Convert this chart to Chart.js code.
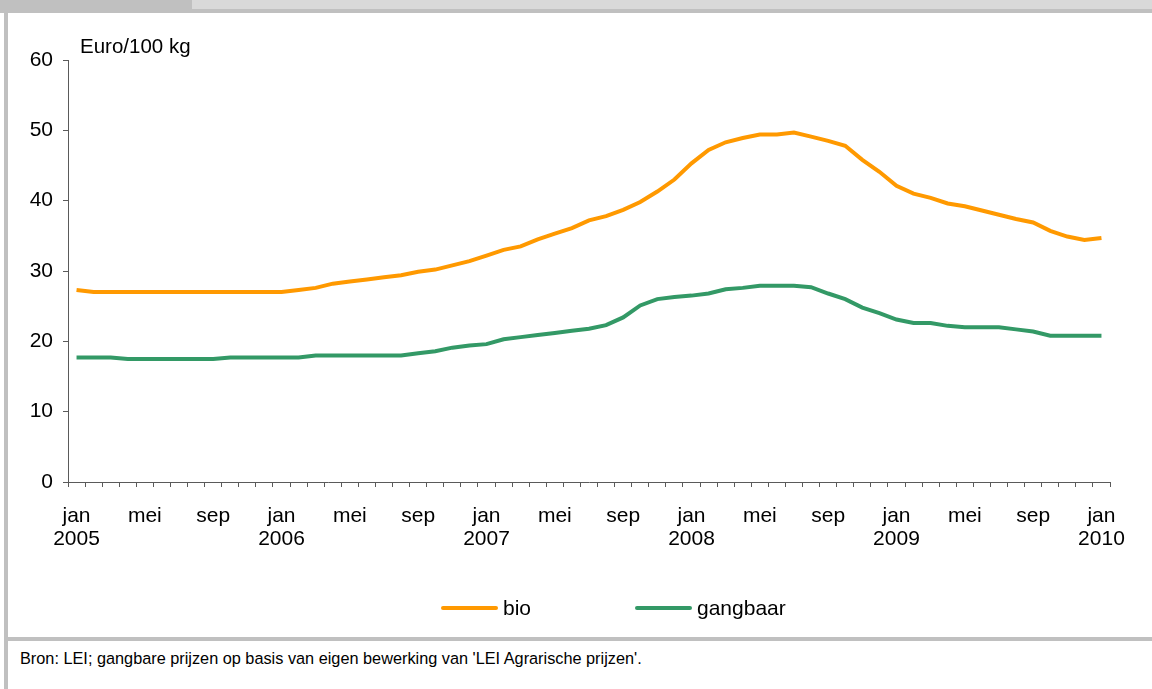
<!DOCTYPE html>
<html>
<head>
<meta charset="utf-8">
<script src="https://cdn.jsdelivr.net/npm/chart.js@4.4.1/dist/chart.umd.min.js"></script>
<style>
  html, body { margin: 0; padding: 0; background: #fff; }
  body { width: 1152px; height: 689px; position: relative; overflow: hidden;
         font-family: "Liberation Sans", Arial, sans-serif; color: #000; }
  .topbar { position: absolute; left: 0; top: 0; width: 1152px; height: 9px; background: #d9d9d9; }
  .topline { position: absolute; left: 0; top: 9px; width: 1152px; height: 4px; background: #c0c0c0; }
  .tab { position: absolute; left: 0; top: 0; width: 192px; height: 13px; background: #c0c0c0; }
  .leftline { position: absolute; left: 4px; top: 0; width: 4px; height: 689px; background: #c0c0c0; }
  .sep { position: absolute; left: 4px; top: 637px; width: 1148px; height: 4px; background: #c0c0c0; }
  #wrap { position: absolute; left: 8px; top: 13px; width: 1144px; height: 624px; }
  .unit { position: absolute; left: 80px; top: 35px; font-size: 20.5px; line-height: 22px; }
  .legend { position: absolute; top: 597px; height: 22px; font-size: 21px; line-height: 22px; }
  .legend span.sw { position: absolute; top: 9px; width: 57px; height: 4px; border-radius: 2px; }
  .legend span.tx { position: absolute; top: 0; white-space: nowrap; }
  .foot { position: absolute; left: 20px; top: 649px; font-size: 16.3px; line-height: 18px; white-space: nowrap; }
</style>
</head>
<body>
<div class="topbar"></div>
<div class="topline"></div>
<div class="tab"></div>
<div class="leftline"></div>
<div id="wrap"><canvas id="chart" width="1144" height="624"></canvas></div>
<div class="unit">Euro/100 kg</div>
<div id="legend"></div>
<div class="sep"></div>
<div class="foot">Bron: LEI; gangbare prijzen op basis van eigen bewerking van 'LEI Agrarische prijzen'.</div>

<script>
// months Jan 2005 .. Jan 2010
const months = ['jan', 'feb', 'mrt', 'apr', 'mei', 'jun', 'jul', 'aug', 'sep', 'okt', 'nov', 'dec'];
const years = [2005, 2006, 2007, 2008, 2009, 2010];
const shownMonths = ['jan', 'mei', 'sep'];
const yTicks = [0, 10, 20, 30, 40, 50, 60];

const seriesNames = ['bio', 'gangbaar'];
const seriesColors = ['#ff9900', '#339966'];

const bio = [27.3, 27.0, 27.0, 27.0, 27.0, 27.0, 27.0, 27.0, 27.0, 27.0, 27.0, 27.0,
             27.0, 27.3, 27.6, 28.2, 28.5, 28.8, 29.1, 29.4, 29.9, 30.2, 30.8, 31.4,
             32.2, 33.0, 33.5, 34.5, 35.3, 36.1, 37.2, 37.8, 38.7, 39.8, 41.3, 43.0,
             45.3, 47.2, 48.3, 48.9, 49.4, 49.4, 49.7, 49.1, 48.5, 47.8, 45.8, 44.1,
             42.1, 41.0, 40.4, 39.6, 39.2, 38.6, 38.0, 37.4, 36.9, 35.7, 34.9, 34.4,
             34.7];
const gangbaar = [17.7, 17.7, 17.7, 17.5, 17.5, 17.5, 17.5, 17.5, 17.5, 17.7, 17.7, 17.7,
                  17.7, 17.7, 18.0, 18.0, 18.0, 18.0, 18.0, 18.0, 18.3, 18.6, 19.1, 19.4,
                  19.6, 20.3, 20.6, 20.9, 21.2, 21.5, 21.8, 22.3, 23.4, 25.1, 26.0, 26.3,
                  26.5, 26.8, 27.4, 27.6, 27.9, 27.9, 27.9, 27.7, 26.8, 26.0, 24.8, 24.0,
                  23.1, 22.6, 22.6, 22.2, 22.0, 22.0, 22.0, 21.7, 21.4, 20.8, 20.8, 20.8,
                  20.8];

// build category labels like "jan 2005"
let labels = [];
for (let y = 0; y < years.length; y++) {
    for (let m = 0; m < months.length; m++) {
        if (labels.length < bio.length) labels.push(months[m] + ' ' + years[y]);
    }
}

function tickLabel(i) {
    let parts = labels[i].split(' ');
    if (shownMonths.indexOf(parts[0]) < 0) return '';
    if (parts[0] === 'jan') return [parts[0], parts[1]];
    return parts[0];
}

const font = "'Liberation Sans', Arial, sans-serif";
const axisColor = '#5a5a5a';

let ctx = document.getElementById('chart').getContext('2d');
new Chart(ctx, {
    type: 'line',
    data: {
        labels: labels,
        datasets: [bio, gangbaar].map((d, k) => ({
            label: seriesNames[k],
            data: d,
            borderColor: seriesColors[k],
            backgroundColor: seriesColors[k],
            borderWidth: 4,
            pointRadius: 0,
            tension: 0,
            fill: false
        }))
    },
    options: {
        responsive: false,
        animation: false,
        layout: { padding: { top: 47, right: 42, left: 0, bottom: 0 } },
        plugins: {
            legend: { display: false },
            tooltip: { enabled: false }
        },
        scales: {
            x: {
                offset: true,
                afterFit: function (scale) { scale.height = 155; },
                grid: { offset: true, drawOnChartArea: false, drawTicks: true, tickLength: 5, color: axisColor },
                border: { display: true, color: axisColor, width: 1 },
                ticks: {
                    autoSkip: false,
                    maxRotation: 0,
                    padding: 18,
                    color: '#000',
                    font: { family: font, size: 21, lineHeight: 1.07 },
                    callback: function (value, index) { return tickLabel(index); }
                }
            },
            y: {
                min: 0,
                max: 60,
                afterFit: function (scale) { scale.width = 60; },
                afterBuildTicks: function (scale) { scale.ticks = yTicks.map(v => ({ value: v })); },
                grid: { drawOnChartArea: false, drawTicks: true, tickLength: 5, color: axisColor },
                border: { display: true, color: axisColor, width: 1 },
                ticks: {
                    padding: 10,
                    color: '#000',
                    font: { family: font, size: 21 }
                }
            }
        }
    }
});

// legend
let legendPos = [[441, 503], [635, 697]];
let legend = document.getElementById('legend');
seriesNames.forEach(function (name, k) {
    let item = document.createElement('div');
    item.className = 'legend';
    item.style.left = '0px';
    item.innerHTML = '<span class="sw" style="left:' + legendPos[k][0] + 'px;background:' + seriesColors[k] + '"></span>' +
                     '<span class="tx" style="left:' + legendPos[k][1] + 'px">' + name + '</span>';
    legend.appendChild(item);
});
</script>
</body>
</html>
